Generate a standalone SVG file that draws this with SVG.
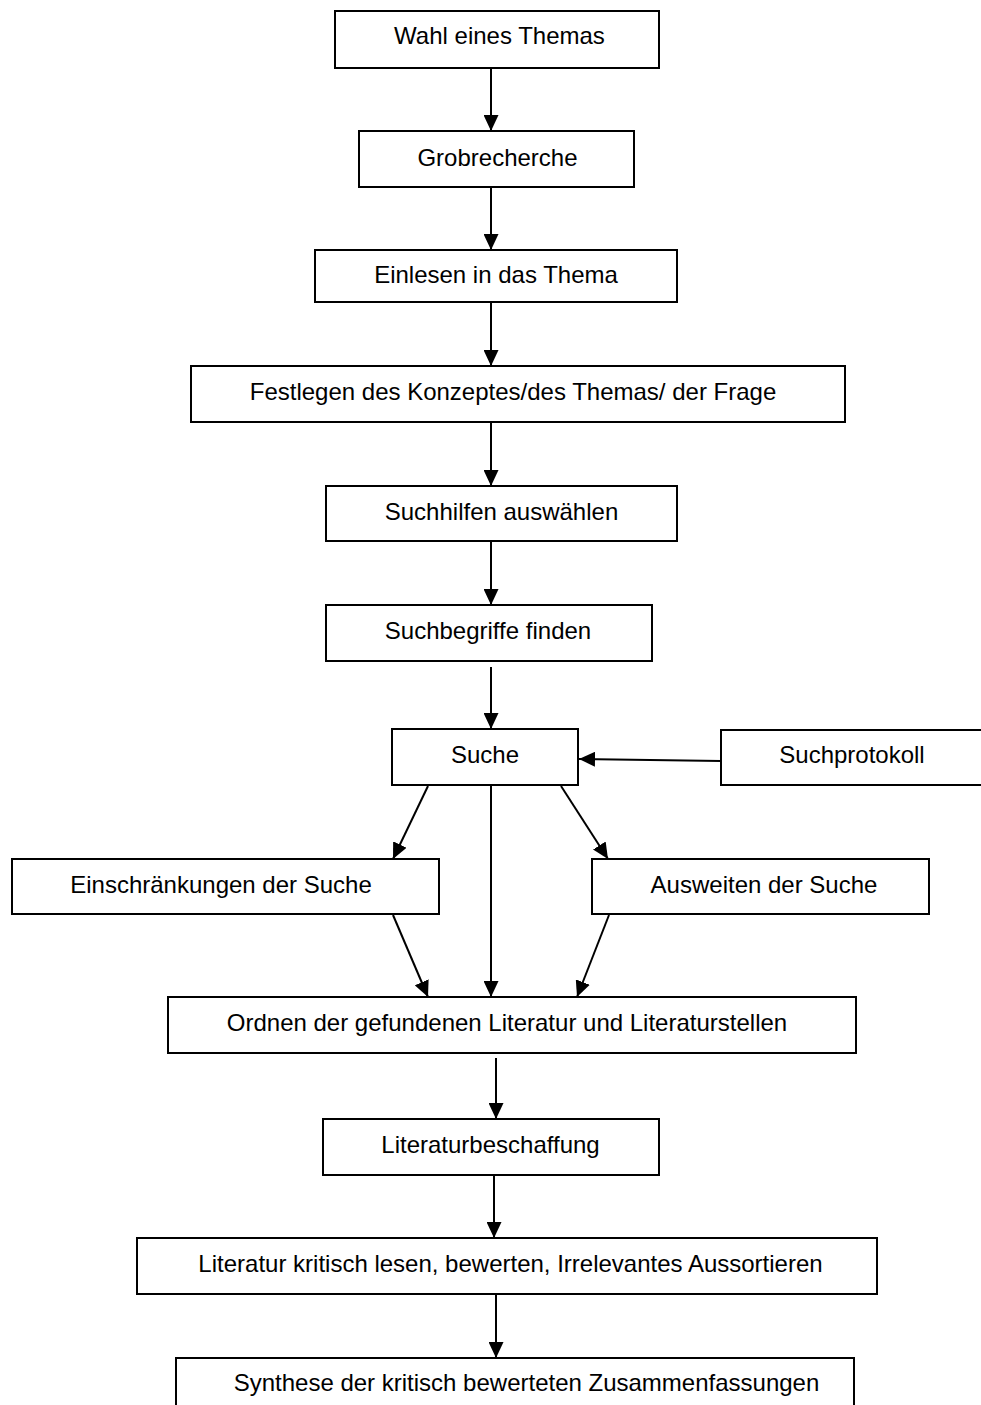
<svg xmlns="http://www.w3.org/2000/svg" width="981" height="1405" viewBox="0 0 981 1405">
<style>
.box{fill:#fff;stroke:#000;stroke-width:2}
.t{font-family:"Liberation Sans",Arial,sans-serif;font-size:24px;fill:#000;text-anchor:middle}
.c{stroke:#000;stroke-width:2;fill:none;marker-end:url(#ah)}
</style>
<defs>
<marker id="ah" markerUnits="userSpaceOnUse" markerWidth="16" markerHeight="15" refX="16" refY="7.5" orient="auto">
<path d="M0,0 L16,7.5 L0,15 z" fill="#000"/>
</marker>
</defs>
<rect width="981" height="1405" fill="#fff"/>
<g id="connectors">
<line class="c" x1="491" y1="68" x2="491" y2="131"/>
<line class="c" x1="491" y1="187" x2="491" y2="250"/>
<line class="c" x1="491" y1="302" x2="491" y2="366"/>
<line class="c" x1="491" y1="422" x2="491" y2="486"/>
<line class="c" x1="491" y1="541" x2="491" y2="605"/>
<line class="c" x1="491" y1="667" x2="491" y2="729"/>
<line class="c" x1="721" y1="761" x2="579" y2="759"/>
<line class="c" x1="428" y1="786" x2="393" y2="859"/>
<line class="c" x1="561" y1="786" x2="608" y2="859"/>
<line class="c" x1="491" y1="786" x2="491" y2="997"/>
<line class="c" x1="393" y1="915" x2="428" y2="997"/>
<line class="c" x1="609" y1="915" x2="577" y2="997"/>
<line class="c" x1="496" y1="1058" x2="496" y2="1119"/>
<line class="c" x1="494" y1="1175" x2="494" y2="1238"/>
<line class="c" x1="496" y1="1294" x2="496" y2="1358"/>
</g>
<g id="n1"><rect class="box" x="335" y="11" width="324" height="57"/><text class="t" x="499.5" y="44">Wahl eines Themas</text></g>
<g id="n2"><rect class="box" x="359" y="131" width="275" height="56"/><text class="t" x="497.5" y="166">Grobrecherche</text></g>
<g id="n3"><rect class="box" x="315" y="250" width="362" height="52"/><text class="t" x="496" y="283">Einlesen in das Thema</text></g>
<g id="n4"><rect class="box" x="191" y="366" width="654" height="56"/><text class="t" x="513" y="400">Festlegen des Konzeptes/des Themas/ der Frage</text></g>
<g id="n5"><rect class="box" x="326" y="486" width="351" height="55"/><text class="t" x="501.5" y="520">Suchhilfen auswählen</text></g>
<g id="n6"><rect class="box" x="326" y="605" width="326" height="56"/><text class="t" x="488" y="639">Suchbegriffe finden</text></g>
<g id="n7"><rect class="box" x="392" y="729" width="186" height="56"/><text class="t" x="485" y="763">Suche</text></g>
<g id="n8"><rect class="box" x="721" y="730" width="270" height="55"/><text class="t" x="852" y="763">Suchprotokoll</text></g>
<g id="n9"><rect class="box" x="12" y="859" width="427" height="55"/><text class="t" x="221" y="893">Einschränkungen der Suche</text></g>
<g id="n10"><rect class="box" x="592" y="859" width="337" height="55"/><text class="t" x="764" y="893">Ausweiten der Suche</text></g>
<g id="n11"><rect class="box" x="168" y="997" width="688" height="56"/><text class="t" x="507" y="1031">Ordnen der gefundenen Literatur und Literaturstellen</text></g>
<g id="n12"><rect class="box" x="323" y="1119" width="336" height="56"/><text class="t" x="490.5" y="1153">Literaturbeschaffung</text></g>
<g id="n13"><rect class="box" x="137" y="1238" width="740" height="56"/><text class="t" x="510.5" y="1272">Literatur kritisch lesen, bewerten, Irrelevantes Aussortieren</text></g>
<g id="n14"><rect class="box" x="176" y="1358" width="678" height="60"/><text class="t" x="526.5" y="1391">Synthese der kritisch bewerteten Zusammenfassungen</text></g>
</svg>
